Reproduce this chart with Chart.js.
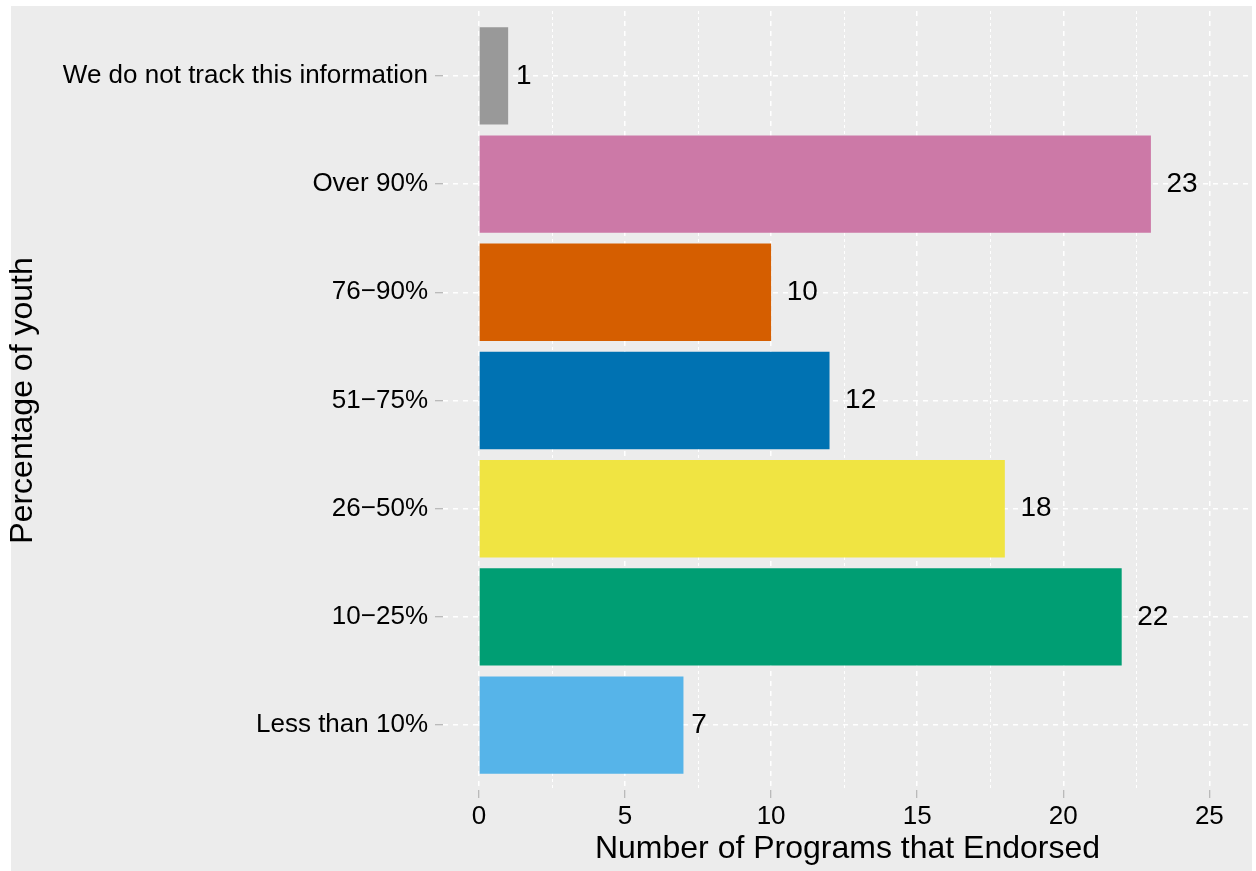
<!DOCTYPE html>
<html><head><meta charset="utf-8">
<script src="https://cdn.jsdelivr.net/npm/chart.js@4"></script>
<style>html,body{margin:0;padding:0;background:#fff;} canvas{display:block;}</style>
</head><body>
<div style="width:1256px;height:871px;"><canvas id="c" width="1256" height="871"></canvas></div>
<script>
const categories = ["We do not track this information", "Over 90%", "76\u221290%", "51\u221275%", "26\u221250%", "10\u221225%", "Less than 10%"];
const values = [1, 23, 10, 12, 18, 22, 7];
const barColors = ["#999999", "#CC79A7", "#D55E00", "#0072B2", "#F0E442", "#009E73", "#56B4E9"];
const xMajorTicks = [0, 5, 10, 15, 20, 25];
const xMinorTicks = [2.5, 7.5, 12.5, 17.5, 22.5];
const xTitle = "Number of Programs that Endorsed";
const yTitle = "Percentage of youth";

const FONT = '"Liberation Sans", Arial, Helvetica, sans-serif';
const BG = '#ECECEC';

const bgPlugin = {
  id: 'bg',
  beforeDraw(chart) {
    const c = chart.ctx;
    c.save();
    c.fillStyle = '#fff';
    c.fillRect(0, 0, chart.width, chart.height);
    c.fillStyle = BG;
    c.fillRect(11, 6, 1241, 865);
    c.restore();
  }
};
const minorGridPlugin = {
  id: 'minorGrid',
  beforeDatasetsDraw(chart) {
    const c = chart.ctx, xs = chart.scales.x, a = chart.chartArea;
    c.save();
    c.strokeStyle = '#fff';
    c.lineWidth = 1;
    c.setLineDash([3, 3]);
    xMinorTicks.forEach(v => {
      const px = Math.round(xs.getPixelForValue(v)) + 0.5;
      c.beginPath();
      c.moveTo(px, a.top);
      c.lineTo(px, a.bottom);
      c.stroke();
    });
    c.restore();
  }
};
const labelPlugin = {
  id: 'valLabels',
  afterDatasetsDraw(chart) {
    const c = chart.ctx;
    const meta = chart.getDatasetMeta(0);
    c.save();
    c.font = '28px ' + FONT;
    c.fillStyle = '#000';
    c.textBaseline = 'middle';
    c.textAlign = 'left';
    meta.data.forEach((bar, i) => {
      const t = String(values[i]);
      const w = c.measureText(t).width;
      c.fillText(t, bar.x + w / 2, bar.y);
    });
    c.restore();
  }
};
const zeroPad = s => { s.paddingTop = 0; s.paddingBottom = 0; s.paddingLeft = 0; s.paddingRight = 0; };

new Chart(document.getElementById('c'), {
  type: 'bar',
  data: {
    datasets: [{
      data: categories.map((c, i) => ({ x: values[i], y: i })),
      backgroundColor: barColors,
      borderWidth: 0,
      categoryPercentage: 0.9,
      barPercentage: 1
    }]
  },
  options: {
    indexAxis: 'y',
    responsive: false,
    animation: false,
    devicePixelRatio: 1,
    layout: { padding: { left: 0, right: 4, top: 11, bottom: 0 } },
    plugins: { legend: { display: false }, tooltip: { enabled: false } },
    scales: {
      x: {
        type: 'linear',
        min: -1.23,
        max: 26.46,
        afterBuildTicks: s => { s.ticks = xMajorTicks.map(v => ({ value: v })); },
        afterFit: s => { s.height = 81; zeroPad(s); },
        ticks: {
          callback: v => String(v),
          font: { family: FONT, size: 26 },
          color: '#000',
          padding: 3,
          autoSkip: false,
          maxRotation: 0
        },
        grid: {
          color: '#fff',
          lineWidth: 1.5,
          drawTicks: true,
          tickLength: 8,
          tickWidth: 1,
          tickColor: '#AAAAAA',
          tickBorderDash: []
        },
        border: { display: false, dash: [5, 5] },
        title: {
          display: true,
          text: xTitle,
          font: { family: FONT, size: 32 },
          color: '#000',
          padding: { top: 0, bottom: 3 }
        }
      },
      y: {
        type: 'linear',
        reverse: true,
        offset: false,
        min: -0.6,
        max: 6.6,
        afterBuildTicks: s => { s.ticks = categories.map((c, i) => ({ value: i })); },
        afterFit: s => { s.width = 443; zeroPad(s); },
        ticks: {
          callback: v => categories[v],
          font: { family: FONT, size: 26 },
          color: '#000',
          padding: 7,
          autoSkip: false
        },
        grid: {
          offset: false,
          color: '#fff',
          lineWidth: 1.5,
          drawTicks: true,
          tickLength: 8,
          tickWidth: 1,
          tickColor: '#AAAAAA',
          tickBorderDash: []
        },
        border: { display: false, dash: [5, 5] },
        title: {
          display: true,
          text: yTitle,
          font: { family: FONT, size: 32 },
          color: '#000',
          padding: { top: 4, bottom: 0 }
        }
      }
    }
  },
  plugins: [bgPlugin, minorGridPlugin, labelPlugin]
});
</script>
</body></html>
